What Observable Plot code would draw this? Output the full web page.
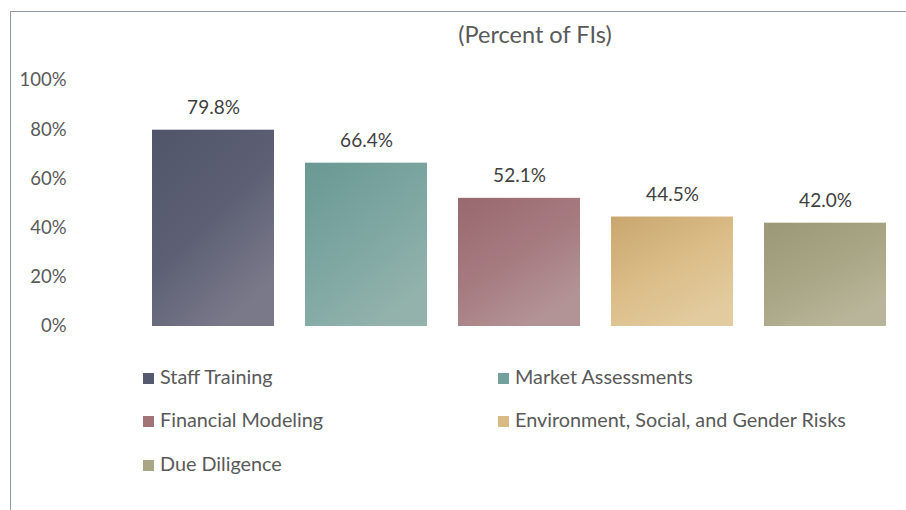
<!DOCTYPE html>
<html>
<head>
<meta charset="utf-8">
<script src="https://cdn.jsdelivr.net/npm/d3@7"></script>
<script src="https://cdn.jsdelivr.net/npm/@observablehq/plot@0.6"></script>
<style>
  html, body { margin: 0; padding: 0; background: #fff; }
  #wrap { position: relative; width: 906px; height: 510px; overflow: hidden; font-family: Lato, "Open Sans", sans-serif; color: #595959; }
  #frameTop { position: absolute; left: 10px; top: 11px; width: 896px; height: 0; border-top: 1.5px solid #8e99aa; }
  #frameLeft { position: absolute; left: 10px; top: 11px; width: 0; height: 499px; border-left: 1.5px solid #8e99aa; }
  #title { position: absolute; left: 0; width: 1070px; top: 20px; text-align: center; font-size: 23.5px; }
  #chart { position: absolute; left: 0; top: 0; }
  .leg { position: absolute; font-size: 19.8px; line-height: 22px; white-space: nowrap; }
  .leg span.sw { display: inline-block; width: 11px; height: 11px; margin-right: 6px; vertical-align: 0px; }
</style>
</head>
<body>
<div id="wrap">
  <div id="frameTop"></div>
  <div id="frameLeft"></div>
  <div id="chart"></div>
  <div id="title">(Percent of FIs)</div>
  <div id="legend"></div>
</div>
<script>
const categories = ["Staff Training", "Market Assessments", "Financial Modeling", "Environment, Social, and Gender Risks", "Due Diligence"];
const values = [79.8, 66.4, 52.1, 44.5, 42.0];
const yTicks = [0, 20, 40, 60, 80, 100];
const swatchColors = ["#565a6e", "#72a09b", "#a27478", "#d8bb84", "#a8a683"];
const gradTop = ["#51556a", "#6a9892", "#98696f", "#c9a66e", "#9a9876"];
const gradMid = ["#5d6074", "#7ea7a2", "#a67b80", "#dbbd88", "#a9a686"];
const gradBottom = ["#7a798a", "#93b2ac", "#b39496", "#e2cb9e", "#b8b59a"];

const data = categories.map((c, i) => ({cat: c, v: values[i], fill: `url(#grad${i})`}));

const chart = Plot.plot({
  width: 906,
  height: 346,
  marginTop: 80,
  marginBottom: 20,
  marginLeft: 135,
  marginRight: 3,
  style: {fontFamily: "Lato, 'Open Sans', sans-serif", fontSize: "18.5px", color: "#595959", background: "transparent", overflow: "visible"},
  x: {domain: categories, paddingInner: 0.2, paddingOuter: 0.1, axis: null},
  y: {domain: [0, 100], axis: null},
  color: {type: "identity"},
  marks: [
    Plot.axisY({ticks: yTicks, tickFormat: d => d + "%", tickSize: 0, tickPadding: 69, fontSize: 18.5, fill: "#595959", label: null}),
    Plot.barY(data, {x: "cat", y: "v", fill: "fill"}),
    Plot.text(data, {x: "cat", y: "v", text: d => d.v.toFixed(1) + "%", dy: -16, lineAnchor: "bottom", fontSize: 19, fill: "#404040"})
  ]
});

const svg = d3.select(chart);
const defs = svg.insert("defs", ":first-child");
categories.forEach((c, i) => {
  const g = defs.append("linearGradient").attr("id", `grad${i}`)
    .attr("x1", "0").attr("y1", "0").attr("x2", "0.6").attr("y2", "1");
  g.append("stop").attr("offset", "0%").attr("stop-color", gradTop[i]);
  g.append("stop").attr("offset", "55%").attr("stop-color", gradMid[i]);
  g.append("stop").attr("offset", "100%").attr("stop-color", gradBottom[i]);
});
document.getElementById("chart").appendChild(chart);

// legend
const legPos = [[143, 365], [498, 365], [143, 408], [498, 408], [143, 452]];
const legend = document.getElementById("legend");
categories.forEach((c, i) => {
  const d = document.createElement("div");
  d.className = "leg";
  d.style.left = legPos[i][0] + "px";
  d.style.top = legPos[i][1] + "px";
  d.innerHTML = `<span class="sw" style="background:${swatchColors[i]}"></span>${c}`;
  legend.appendChild(d);
});
</script>
</body>
</html>
